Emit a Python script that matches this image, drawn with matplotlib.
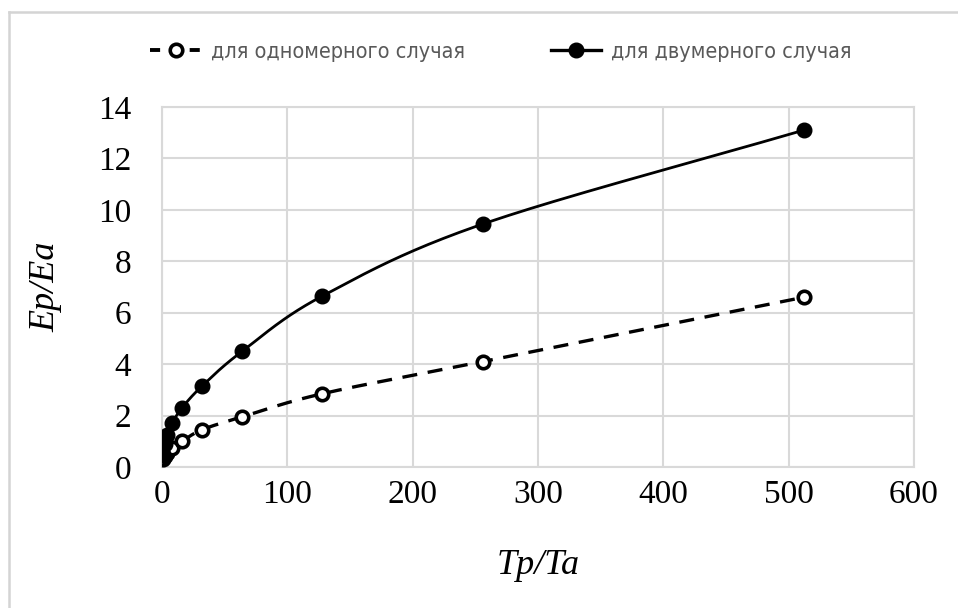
import numpy as np
import matplotlib
matplotlib.use("Agg")
import matplotlib.pyplot as plt
from matplotlib.lines import Line2D

# ---- data ----
tp_ta = [1, 2, 4, 8, 16, 32, 64, 128, 256, 512]
ep_ea_1d = [0.32, 0.42, 0.55, 0.74, 1.0, 1.45, 1.95, 2.85, 4.1, 6.6]
ep_ea_2d = [0.5, 0.9, 1.25, 1.7, 2.3, 3.15, 4.5, 6.65, 9.45, 13.1]
label_1d = "для одномерного случая"
label_2d = "для двумерного случая"
x_ticks = [0, 100, 200, 300, 400, 500, 600]
y_ticks = [0, 2, 4, 6, 8, 10, 12, 14]
x_label = "Tp/Ta"
y_label = "Ep/Ea"


def smooth(x, y, n=40):
    """Catmull-Rom smoothing through the data points (like Excel's smoothed line)."""
    x = np.asarray(x, float)
    y = np.asarray(y, float)
    px = np.concatenate([[2 * x[0] - x[1]], x, [2 * x[-1] - x[-2]]])
    py = np.concatenate([[2 * y[0] - y[1]], y, [2 * y[-1] - y[-2]]])
    xs, ys = [], []
    t = np.linspace(0, 1, n)
    for i in range(1, len(px) - 2):
        p0, p1, p2, p3 = (np.array([px[j], py[j]]) for j in range(i - 1, i + 3))
        c1 = p1 + (p2 - p0) / 6.0
        c2 = p2 - (p3 - p1) / 6.0
        b = ((1 - t) ** 3)[:, None] * p1 + (3 * (1 - t) ** 2 * t)[:, None] * c1 \
            + (3 * (1 - t) * t ** 2)[:, None] * c2 + (t ** 3)[:, None] * p2
        xs.append(b[:, 0])
        ys.append(b[:, 1])
    return np.concatenate(xs), np.concatenate(ys)


fig = plt.figure(figsize=(9.58, 6.08), dpi=100)
ax = fig.add_axes([162 / 958, 1 - 467 / 608, (914 - 162) / 958, (467 - 107) / 608])

grid_c = "#d9d9d9"
sx1, sy1 = smooth(tp_ta, ep_ea_1d)
sx2, sy2 = smooth(tp_ta, ep_ea_2d)
ax.plot(sx1, sy1, color="black", lw=2.4, ls=(0, (4.5, 3.2)), zorder=3)
ax.plot(tp_ta, ep_ea_1d, ls="none", marker="o", ms=9, mfc="white", mec="black", mew=2.6, zorder=4)
ax.plot(sx2, sy2, color="black", lw=2.0, zorder=3)
ax.plot(tp_ta, ep_ea_2d, ls="none", marker="o", ms=10.5, mfc="black", mec="black", zorder=4)

ax.set_xlim(0, 600)
ax.set_ylim(0, 14)
ax.set_xticks(x_ticks)
ax.set_yticks(y_ticks)
ax.grid(True, color=grid_c, lw=1.5)
ax.set_axisbelow(True)
for s in ax.spines.values():
    s.set_color(grid_c)
    s.set_linewidth(1.5)
ax.tick_params(length=0, labelsize=24, colors="black")
ax.tick_params(axis="y", pad=22)
ax.tick_params(axis="x", pad=9)
for lab in ax.get_xticklabels() + ax.get_yticklabels():
    lab.set_family("Liberation Serif")

ax.set_xlabel(x_label, family="Liberation Serif", style="italic", fontsize=26, labelpad=28)
ax.set_ylabel(y_label, family="Liberation Serif", style="italic", fontsize=26, labelpad=26)

h1 = Line2D([], [], color="black", lw=2.8, ls=(0, (2.6, 7.6)), marker="o", ms=9,
            mfc="white", mec="black", mew=2.6)
h2 = Line2D([], [], color="black", lw=2.4, marker="o", ms=10.5, mfc="black", mec="black")
leg = fig.legend([h1, h2], [label_1d, label_2d], loc="center", bbox_to_anchor=(0.523, 1 - 52 / 608),
                 ncol=2, frameon=False, handlelength=2.35, columnspacing=4.0, handletextpad=0.45,
                 prop={"family": "DejaVu Sans", "size": 15.5, "stretch": "condensed"})
for t in leg.get_texts():
    t.set_color("#595959")

# outer chart-area border (partially visible)
fig.add_artist(Line2D([9 / 958, 9 / 958], [0, 1 - 12 / 608], color="#d4d4d4", lw=1.8,
                      transform=fig.transFigure))
fig.add_artist(Line2D([9 / 958, 1], [1 - 12 / 608, 1 - 12 / 608], color="#d4d4d4", lw=1.8,
                      transform=fig.transFigure))

fig.savefig("out.png", dpi=100)
